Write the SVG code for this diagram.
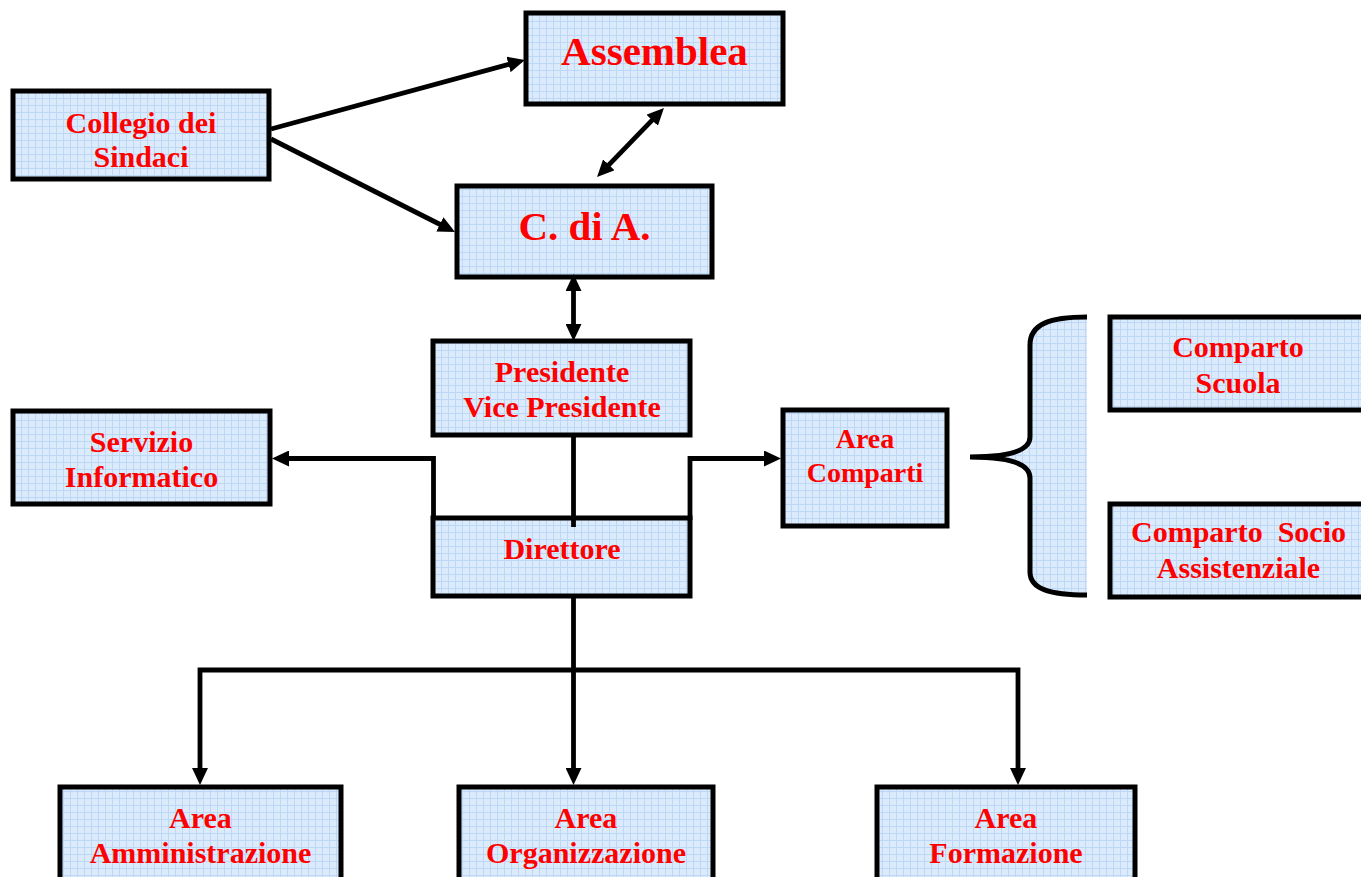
<svg xmlns="http://www.w3.org/2000/svg" width="1361" height="877" viewBox="0 0 1361 877">
<style>
.box{fill:url(#grid);stroke:#000;stroke-width:5}
.t{font-family:"Liberation Serif","Times New Roman",serif;font-weight:bold;fill:#ff0000;text-anchor:middle;font-size:30px;white-space:pre}
.big{font-size:41px}
.sm{font-size:28px}
.c{fill:none;stroke:#000;stroke-width:4.8}
</style>
<defs>
<pattern id="grid" width="7" height="7" patternUnits="userSpaceOnUse">
<rect width="7" height="7" fill="#dcebfc"/>
<path d="M0,0.5H7M0.5,0V7" stroke="#bdd8f7" stroke-width="1"/>
</pattern>
<marker id="ah" viewBox="0 0 17 16" markerUnits="userSpaceOnUse" markerWidth="17" markerHeight="16" refX="7" refY="8" orient="auto-start-reverse">
<path d="M0,0L17,8L0,16z" fill="#000"/>
</marker>
</defs>
<rect width="1361" height="877" fill="#fff"/>

<g id="assemblea"><rect class="box" x="526" y="13" width="257" height="91"/><text class="t big" x="654.5" y="65">Assemblea</text></g>
<g id="collegio"><rect class="box" x="13" y="91" width="256" height="88"/><text class="t" x="141" y="133">Collegio dei</text><text class="t" x="141" y="167">Sindaci</text></g>
<g id="cda"><rect class="box" x="457" y="186" width="255" height="91"/><text class="t big" x="584.5" y="240">C. di A.</text></g>
<g id="presidente"><rect class="box" x="433" y="341" width="257" height="94"/><text class="t" x="562" y="382">Presidente</text><text class="t" x="562" y="417">Vice Presidente</text></g>
<g id="direttore"><rect class="box" x="433" y="518" width="257" height="78"/><text class="t" x="562" y="559">Direttore</text></g>
<g id="servizio"><rect class="box" x="13" y="411" width="257" height="93"/><text class="t" x="141.5" y="452">Servizio</text><text class="t" x="141.5" y="487">Informatico</text></g>
<g id="areacomparti"><rect class="box" x="783" y="410" width="164" height="116"/><text class="t sm" x="865" y="448">Area</text><text class="t sm" x="865" y="482">Comparti</text></g>
<g id="brace">
<path d="M1087,317 C1050,317 1030,324 1030,345 L1030,437 C1030,451 1008,457 970,457 C1008,457 1030,463 1030,478 L1030,572 C1030,589 1050,595 1087,595 Z" fill="url(#grid)"/>
<path d="M1087,317 C1050,317 1030,324 1030,345 L1030,437 C1030,451 1008,457 970,457 C1008,457 1030,463 1030,478 L1030,572 C1030,589 1050,595 1087,595" fill="none" stroke="#000" stroke-width="5"/>
</g>
<g id="scuola"><rect class="box" x="1110" y="317" width="270" height="93"/><text class="t" x="1238" y="357">Comparto</text><text class="t" x="1238" y="393">Scuola</text></g>
<g id="socio"><rect class="box" x="1110" y="504" width="270" height="93"/><text class="t" x="1238.5" y="542">Comparto  Socio</text><text class="t" x="1238.5" y="578">Assistenziale</text></g>
<g id="amministrazione"><rect class="box" x="60" y="787" width="281" height="120"/><text class="t" x="200.5" y="828">Area</text><text class="t" x="200.5" y="863">Amministrazione</text></g>
<g id="organizzazione"><rect class="box" x="459" y="787" width="254" height="120"/><text class="t" x="586" y="828">Area</text><text class="t" x="586" y="863">Organizzazione</text></g>
<g id="formazione"><rect class="box" x="877" y="787" width="258" height="120"/><text class="t" x="1006" y="828">Area</text><text class="t" x="1006" y="863">Formazione</text></g>

<g id="connectors">
<path class="c" d="M271,129 L515.3,62.6" marker-end="url(#ah)"/>
<path class="c" d="M271,139 L446.1,227.5" marker-end="url(#ah)"/>
<path class="c" d="M657,115.2 L604,169.8" marker-start="url(#ah)" marker-end="url(#ah)"/>
<path class="c" d="M573.5,284 L573.5,331" marker-start="url(#ah)" marker-end="url(#ah)"/>
<path class="c" d="M573.5,437 L573.5,527"/>
<path class="c" d="M433.5,520 L433.5,458.5 L282,458.5" marker-end="url(#ah)"/>
<path class="c" d="M690,520 L690,458.5 L771,458.5" marker-end="url(#ah)"/>
<path class="c" d="M573.5,598 L573.5,775" marker-end="url(#ah)"/>
<path class="c" d="M200,775 L200,670 L1018,670 L1018,775" marker-start="url(#ah)" marker-end="url(#ah)"/>
</g>
</svg>
